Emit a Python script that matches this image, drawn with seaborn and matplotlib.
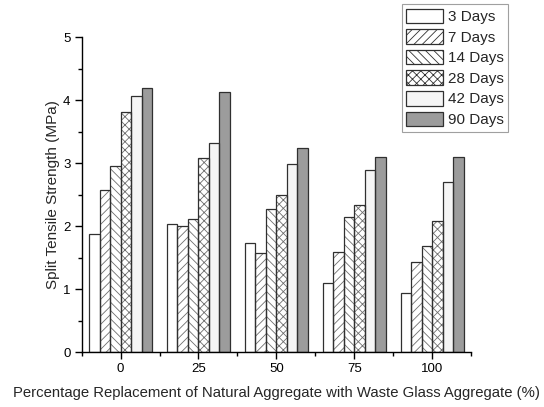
import numpy as np
import pandas as pd
import matplotlib
matplotlib.use("Agg")
import matplotlib.pyplot as plt
from matplotlib.patches import Rectangle
from matplotlib.ticker import MultipleLocator, FixedLocator
import seaborn as sns

# Split tensile strength (MPa) by glass replacement level and curing age
replacement = ["0", "25", "50", "75", "100"]
ages = ["3 Days", "7 Days", "14 Days", "28 Days", "42 Days", "90 Days"]
days_3 = [1.88, 2.03, 1.74, 1.09, 0.94]
days_7 = [2.57, 2.01, 1.57, 1.59, 1.43]
days_14 = [2.95, 2.12, 2.27, 2.14, 1.69]
days_28 = [3.82, 3.08, 2.50, 2.33, 2.08]
days_42 = [4.07, 3.32, 2.99, 2.89, 2.70]
days_90 = [4.20, 4.14, 3.25, 3.10, 3.10]

series = [days_3, days_7, days_14, days_28, days_42, days_90]
fills = ["white", "white", "white", "white", "#f5f5f5", "#9c9c9c"]
hatches = ["", "////", "\\\\\\\\", "xxxx", "", ""]

df = pd.DataFrame(
    [(r, a, v) for a, vals in zip(ages, series) for r, v in zip(replacement, vals)],
    columns=["replacement", "age", "strength"],
)

sns.set_style("ticks")
plt.rcParams["font.family"] = ["Liberation Sans", "DejaVu Sans"]
plt.rcParams["hatch.linewidth"] = 0.6

fig = plt.figure(figsize=(5.44, 4.07), dpi=100)
ax = fig.add_axes([0.150, 0.135, 0.716, 0.773])

sns.barplot(
    data=df, x="replacement", y="strength", hue="age",
    order=replacement, hue_order=ages,
    palette=fills, width=0.81, gap=0, saturation=1,
    legend=False, errorbar=None, ax=ax,
)

edge_dark = "#303030"
hatch_grey = "#6e6e6e"
for cont, fc, h in zip(ax.containers, fills, hatches):
    for p in cont.patches:
        p.set_facecolor(fc)
        p.set_hatch(h)
        p.set_edgecolor(hatch_grey)
        p.set_linewidth(0)
        # crisp outline on top of the hatched fill
        ax.add_patch(Rectangle(p.get_xy(), p.get_width(), p.get_height(),
                               fill=False, edgecolor=edge_dark, linewidth=0.9,
                               zorder=p.get_zorder() + 0.1))

ax.set_xlim(-0.5, len(replacement) - 0.5)
ax.set_ylim(0, 5)
ax.yaxis.set_major_locator(MultipleLocator(1))
ax.yaxis.set_minor_locator(MultipleLocator(0.5))
ax.xaxis.set_minor_locator(FixedLocator(np.arange(len(replacement) + 1) - 0.5))

sns.despine(ax=ax)
for s in ("left", "bottom"):
    ax.spines[s].set_linewidth(1.0)
    ax.spines[s].set_color("black")
ax.tick_params(axis="both", which="major", direction="out", length=5, width=1,
               labelsize=9.5, colors="black", pad=3)
ax.tick_params(axis="both", which="minor", direction="out", length=3, width=1, colors="black")

ax.set_xlabel("Percentage Replacement of Natural Aggregate with Waste Glass Aggregate (%)",
              fontsize=10.7, labelpad=8)
ax.set_ylabel("Split Tensile Strength (MPa)", fontsize=11, labelpad=2.5)

# Legend proxies styled like the bars
handles = []
for fc, h in zip(fills, hatches):
    handles.append(Rectangle((0, 0), 1, 1, facecolor=fc, hatch=h,
                             edgecolor=edge_dark, linewidth=0.9))
leg = fig.legend(handles, ages, loc="upper right", bbox_to_anchor=(0.934, 0.99),
                 fontsize=11, frameon=True, fancybox=False, framealpha=1,
                 edgecolor="#a0a0a0", handlelength=2.4, handleheight=1.1,
                 handletextpad=0.3, labelspacing=0.33, borderpad=0.3,
                 borderaxespad=0)
leg.get_frame().set_linewidth(0.8)

fig.savefig("out.png", dpi=100)
